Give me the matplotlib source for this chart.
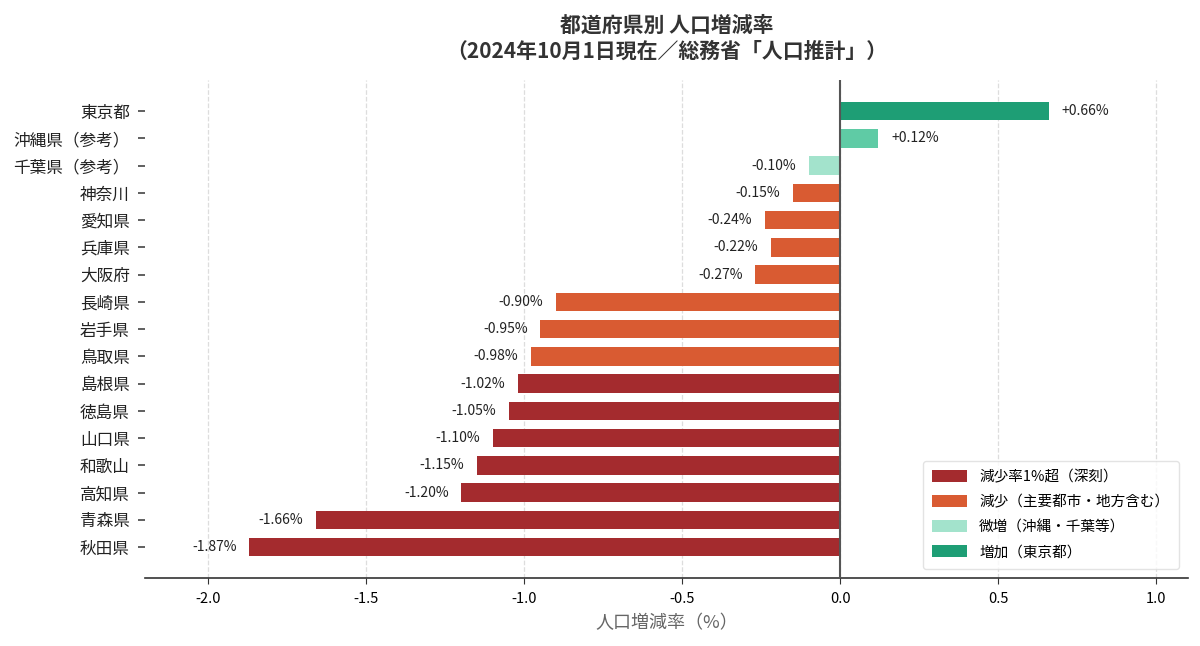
import matplotlib
matplotlib.use("Agg")
import matplotlib.pyplot as plt
from matplotlib.patches import Patch

plt.rcParams['font.family'] = ['Noto Sans CJK JP', 'DejaVu Sans']

# data (top to bottom)
prefectures = ['東京都', '沖縄県（参考）', '千葉県（参考）', '神奈川', '愛知県', '兵庫県', '大阪府',
               '長崎県', '岩手県', '鳥取県', '島根県', '徳島県', '山口県', '和歌山', '高知県',
               '青森県', '秋田県']
rates = [0.66, 0.12, -0.10, -0.15, -0.24, -0.22, -0.27,
         -0.90, -0.95, -0.98, -1.02, -1.05, -1.10, -1.15, -1.20,
         -1.66, -1.87]
groups = ['up', 'mid', 'light', 'dec', 'dec', 'dec', 'dec',
          'dec', 'dec', 'dec', 'deep', 'deep', 'deep', 'deep', 'deep',
          'deep', 'deep']

group_colors = {
    'deep': '#A42B2E',
    'dec': '#D95B32',
    'light': '#A3E3CC',
    'mid': '#5FCBA5',
    'up': '#1E9E75',
}
legend_labels = ['減少率1%超（深刻）', '減少（主要都市・地方含む）', '微増（沖縄・千葉等）', '増加（東京都）']
legend_keys = ['deep', 'dec', 'light', 'up']

fig, ax = plt.subplots(figsize=(12, 6.46), dpi=100)
fig.subplots_adjust(left=0.121, right=0.99, top=0.876, bottom=0.105)

ypos = list(range(len(prefectures)))
colors = [group_colors[g] for g in groups]
ax.barh(ypos, rates, height=0.68, color=colors, zorder=3)

for y, v in zip(ypos, rates):
    if v >= 0:
        ax.text(v + 0.04, y, f'+{v:.2f}%', ha='left', va='center', fontsize=10, color='#222222')
    else:
        ax.text(v - 0.04, y, f'{v:.2f}%', ha='right', va='center', fontsize=10, color='#222222')

ax.axvline(0, color='#555555', lw=1.5, zorder=4)

ax.set_yticks(ypos)
ax.set_yticklabels(prefectures, fontsize=12, color='#222222')
ax.set_ylim(len(prefectures) - 1 + 1.14, -1.14)
ax.set_xlim(-2.2, 1.1)
ax.set_xticks([-2.0, -1.5, -1.0, -0.5, 0.0, 0.5, 1.0])
ax.set_xticklabels(['-2.0', '-1.5', '-1.0', '-0.5', '0.0', '0.5', '1.0'], fontsize=10.5)
ax.tick_params(axis='y', length=5, width=1.2, color='#444444', pad=6)
ax.tick_params(axis='x', length=4, color='#333333', pad=6)

ax.grid(axis='x', linestyle='--', color='#dddddd', lw=0.9, zorder=0)
ax.set_axisbelow(True)

for side in ['top', 'right', 'left']:
    ax.spines[side].set_visible(False)
ax.spines['bottom'].set_color('#333333')
ax.spines['bottom'].set_linewidth(1.2)

ax.set_xlabel('人口増減率（%）', fontsize=13, color='#666666', labelpad=6)
ax.set_title('都道府県別 人口増減率\n（2024年10月1日現在／総務省「人口推計」）',
             fontsize=15, fontweight='bold', color='#333333', pad=16, linespacing=1.3)

handles = [Patch(facecolor=group_colors[k]) for k in legend_keys]
leg = ax.legend(handles, legend_labels, loc='lower right', fontsize=10.5,
                frameon=True, handlelength=2.4, handleheight=0.9, borderpad=0.65,
                labelspacing=0.75, bbox_to_anchor=(0.998, 0.004))
leg.get_frame().set_edgecolor('#dddddd')

plt.savefig('out.png', dpi=100)
